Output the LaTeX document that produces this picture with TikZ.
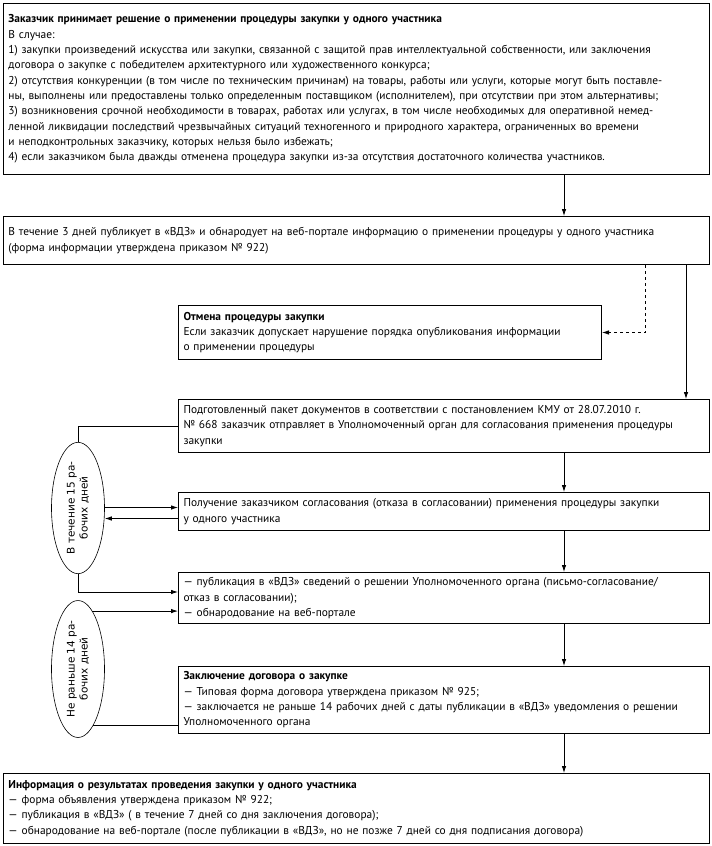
\documentclass[tikz,border=0pt]{standalone}
\usepackage{fontspec}
\setmainfont{PT Sans}
\newfontfamily\ovalfont{DejaVu Sans}
\usetikzlibrary{calc,shapes.geometric,arrows.meta}

\tikzset{
  stagebox/.style={draw, line width=1pt, anchor=north west, align=left,
    inner xsep=5pt, inner ysep=2pt, font=\fontsize{11.4}{15.3}\selectfont},
  dayoval/.style={draw, ellipse, line width=0.6pt, rotate=90, inner sep=0pt,
    align=center, minimum width=129pt, minimum height=53pt,
    font=\ovalfont\fontsize{10.5}{13}\selectfont},
  link/.style={line width=0.8pt, -{Latex[length=7pt,width=4.5pt]}},
  plain/.style={line width=0.8pt}
}

\begin{document}
\begin{tikzpicture}[x=1pt, y=1pt]
    % Fix the size of the page
    \useasboundingbox (0,0) rectangle (712,-846);

    % Columns of the vertical connectors
    \coordinate (ax) at (564,0);
    \coordinate (dx) at (645,0);
    \coordinate (sx) at (686,0);

    % Create the boxes of the procedure
    \node[stagebox, text width=696pt, minimum height=171pt] (decide) at (3,-3)
      {\textbf{Заказчик принимает решение о применении процедуры закупки у одного участника}\\
       В случае:\\
       1) закупки произведений искусства или закупки, связанной с защитой прав интеллектуальной собственности, или заключения\\
       договора о закупке с победителем архитектурного или художественного конкурса;\\
       2) отсутствия конкуренции (в том числе по техническим причинам) на товары, работы или услуги, которые могут быть поставле-\\
       ны, выполнены или предоставлены только определенным поставщиком (исполнителем), при отсутствии при этом альтернативы;\\
       3) возникновения срочной необходимости в товарах, работах или услугах, в том числе необходимых для оперативной немед-\\
       ленной ликвидации последствий чрезвычайных ситуаций техногенного и природного характера, ограниченных во времени\\
       и неподконтрольных заказчику, которых нельзя было избежать;\\
       4) если заказчиком была дважды отменена процедура закупки из-за отсутствия достаточного количества участников.};
    \node[stagebox, text width=696pt, minimum height=48pt] (publish) at (3,-216)
      {В течение 3 дней публикует в «ВДЗ» и обнародует на веб-портале информацию о применении процедуры у одного участника\\
       (форма информации утверждена приказом № 922)};
    \node[stagebox, text width=413pt, minimum height=54pt] (cancel) at (178,-305)
      {\textbf{Отмена процедуры закупки}\\
       Если заказчик допускает нарушение порядка опубликования информации\\
       о применении процедуры};
    \node[stagebox, text width=521pt, minimum height=53pt] (packet) at (178,-399)
      {Подготовленный пакет документов в соответствии с постановлением КМУ от 28.07.2010 г.\\
       № 668 заказчик отправляет в Уполномоченный орган для согласования применения процедуры\\
       закупки};
    \node[stagebox, text width=521pt, minimum height=38pt] (reply) at (178,-492)
      {Получение заказчиком согласования (отказа в согласовании) применения процедуры закупки\\
       у одного участника};
    \node[stagebox, text width=521pt, minimum height=51pt] (notice) at (178,-572)
      {— публикация в «ВДЗ» сведений о решении Уполномоченного органа (письмо-согласование/\\
       отказ в согласовании);\\
       — обнародование на веб-портале};
    \node[stagebox, text width=521pt, minimum height=67pt] (contract) at (178,-666)
      {\textbf{Заключение договора о закупке}\\
       — Типовая форма договора утверждена приказом № 925;\\
       — заключается не раньше 14 рабочих дней с даты публикации в «ВДЗ» уведомления о решении\\
       Уполномоченного органа};
    \node[stagebox, text width=696pt, minimum height=70pt] (report) at (3,-773)
      {\textbf{Информация о результатах проведения закупки у одного участника}\\
       — форма объявления утверждена приказом № 922;\\
       — публикация в «ВДЗ» ( в течение 7 дней со дня заключения договора);\\
       — обнародование на веб-портале (после публикации в «ВДЗ», но не позже 7 дней со дня подписания договора)};

    % Terms in days
    \node[dayoval] (days15) at (78,-508) {В течение 15 ра-\\бочих дней};
    \node[dayoval] (days14) at (78,-669) {Не раньше 14 ра-\\бочих дней};

    % Main flow
    \draw[link] (decide.south -| ax) -- (publish.north -| ax);
    \draw[link, dashed] (publish.south -| dx) |- (cancel.east);
    \draw[link] (publish.south -| sx) -- (packet.north -| sx);
    \draw[link] (packet.south -| ax) -- (reply.north -| ax);
    \draw[link] (reply.south -| ax) -- (notice.north -| ax);
    \draw[link] (notice.south -| ax) -- (contract.north -| ax);
    \draw[link] (contract.south -| ax) -- (report.north -| ax);

    % Links of the terms
    \coordinate (toreply) at ([yshift=4pt]reply.west);
    \coordinate (fromreply) at ([yshift=-7pt]reply.west);
    \draw[plain] (days15.east) |- (packet.west);
    \draw[link] (toreply -| days15.south) -- (toreply);
    \draw[link] (fromreply) -- (fromreply -| days15.south);
    \draw[link] (days15.west) |- ([yshift=6pt]notice.west);
    \draw[link] (days14.-14) -- (days14.-14 -| notice.west);
    \draw[plain] (contract.west |- days14.195) -- (days14.195);
\end{tikzpicture}
\end{document}
